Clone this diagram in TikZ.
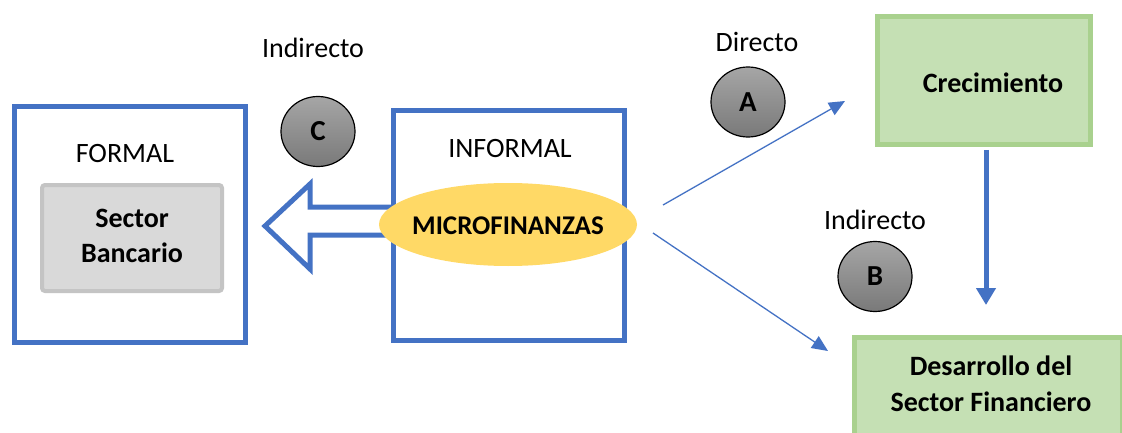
\documentclass[tikz,border=0pt]{standalone}
\usepackage{fontspec}
\setmainfont{Carlito}
\usetikzlibrary{arrows.meta,shapes.geometric}
\definecolor{mblue}{HTML}{4472C4}
\definecolor{mgreen}{HTML}{C5E0B4}
\definecolor{mgreenb}{HTML}{A9D18E}
\definecolor{mgray}{HTML}{D9D9D9}
\definecolor{mgrayb}{HTML}{C4C4C4}
\definecolor{myellow}{HTML}{FFD966}
\tikzset{
  lbl/.style={font=\fontsize{28}{34}\selectfont, inner sep=0pt},
  blbl/.style={font=\fontsize{28}{35.5}\selectfont\bfseries, inner sep=0pt, align=center},
  bluebox/.style={draw=mblue, line width=5pt, fill=white, inner sep=0pt},
  greenbox/.style={draw=mgreenb, fill=mgreen, line width=5pt, inner sep=0pt},
  ball/.style={ellipse, draw=black, line width=1.2pt, top color=gray!70, bottom color=gray!95!black, minimum width=74pt, minimum height=70pt, inner sep=0pt, font=\fontsize{29}{34}\selectfont\bfseries},
  thinarrow/.style={draw=mblue, line width=1.3pt, -{Triangle[length=16pt,width=14pt]}},
}
\begin{document}
\begin{tikzpicture}[x=1pt,y=-1pt]
\useasboundingbox (0,0) rectangle (1122,433);
\begin{scope}
\clip (0,0) rectangle (1122,433);
% FORMAL box
\node[bluebox, minimum width=231pt, minimum height=236pt] (formal) at (130,224.5) {};
\node[lbl] (formaltxt) at (125,154) {FORMAL};
\node[draw=mgrayb, fill=mgray, line width=4pt, rounded corners=3pt, minimum width=180pt, minimum height=106pt, inner sep=0pt] (banco) at (132,238) {};
\node[blbl] (bancotxt) at (132,236) {Sector\\Bancario};
% block arrow
\coordinate (bt) at (265,226);
\draw[mblue, line width=5pt, fill=white, line join=miter] (395,207) -- (310,207) -- (310,184) -- (bt) -- (310,269) -- (310,235) -- (395,235);
% INFORMAL box
\node[bluebox, minimum width=231pt, minimum height=230pt] (informal) at (509,225.5) {};
\node[lbl] (informaltxt) at (510,149) {INFORMAL};
\node[ellipse, fill=myellow, minimum width=258pt, minimum height=83pt, inner sep=0pt] (micro) at (508,224.5) {};
\node[blbl, font=\fontsize{27}{34}\selectfont\bfseries] (microtxt) at (508,226) {MICROFINANZAS};
% C
\node[lbl] (indC) at (313,48) {Indirecto};
\node[ball] (C) at (318,131.5) {C};
% A
\node[lbl] (dirA) at (757,42) {Directo};
\node[ball] (A) at (748,102) {A};
% B
\node[lbl] (indB) at (875,220) {Indirecto};
\node[ball] (B) at (875,276.5) {B};
% Crecimiento
\node[greenbox, minimum width=213pt, minimum height=128pt] (crec) at (984,80.5) {};
\node[blbl] (crectxt) at (993,83) {Crecimiento};
% Desarrollo
\coordinate (dl) at (851.5,334.5);
\node[greenbox, anchor=north west, minimum width=268pt, minimum height=98pt] (desarrollo) at (dl) {};
\node[blbl] (desatxt) at (991,384) {Desarrollo del\\Sector Financiero};
% arrows
\coordinate (aS) at (663,205);
\coordinate (aE) at (845,101);
\coordinate (bS) at (653,233);
\coordinate (bE) at (828,351);
\coordinate (vE) at (986,305);
\draw[thinarrow] (aS) -- (aE);
\draw[thinarrow] (bS) -- (bE);
\draw[draw=mblue, line width=5pt, -{Triangle[length=17pt,width=19pt]}] (crec.south -| vE) ++(0,3) -- (vE);
\end{scope}
\end{tikzpicture}
\end{document}
